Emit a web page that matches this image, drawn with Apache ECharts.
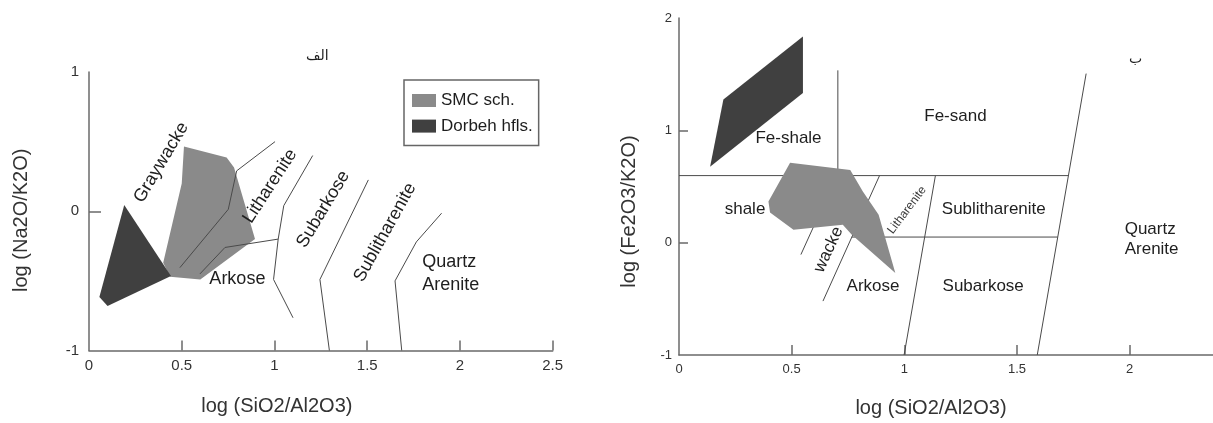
<!DOCTYPE html>
<html><head><meta charset="utf-8">
<script src="https://cdn.jsdelivr.net/npm/echarts@6/dist/echarts.min.js"></script>
<style>html,body{margin:0;padding:0;background:#fff}#c{width:1213px;height:423px}</style>
</head><body><div id="c"></div>
<script>
// ---------- Left panel (الف): log(Na2O/K2O) vs log(SiO2/Al2O3) ----------
const leftXTicks = [0, 0.5, 1, 1.5, 2, 2.5];
const leftYTicks = [-1, 0, 1];
const leftSMC = [[0.512,0.465],[0.742,0.386],[0.782,0.314],[0.895,-0.20],[0.60,-0.49],[0.437,-0.47],[0.40,-0.37],[0.50,0.20]];
const leftDorbeh = [[0.19,0.045],[0.442,-0.465],[0.10,-0.68],[0.056,-0.615]];
const leftLineA = [[1.003,0.50],[0.796,0.29],[0.751,0.014],[0.49,-0.405]];
const leftLineB = [[1.02,-0.20],[0.733,-0.26],[0.598,-0.45]];
const leftLineC = [[1.206,0.40],[1.05,0.04],[1.02,-0.20],[0.995,-0.49],[1.10,-0.765]];
const leftLineD = [[1.506,0.225],[1.245,-0.49],[1.296,-1.0]];
const leftLineE = [[1.901,-0.014],[1.765,-0.22],[1.65,-0.50],[1.686,-1.0]];
const leftLabels = [[0.39,0.35,'Graywacke'],[0.976,0.18,'Litharenite'],[1.263,0.014,'Subarkose'],[1.596,-0.153,'Sublitharenite'],[0.80,-0.49,'Arkose'],[1.797,-0.45,'Quartz\nArenite']];
const leftLabelAngles = [59, 57, 59, 61, 0, 0];

// ---------- Right panel (ب): log(Fe2O3/K2O) vs log(SiO2/Al2O3) ----------
const rightXTicks = [0, 0.5, 1, 1.5, 2];
const rightYTicks = [-1, 0, 1, 2];
const rightDorbeh = [[0.197,1.274],[0.55,1.835],[0.55,1.332],[0.138,0.676]];
const rightSMC = [[0.493,0.712],[0.76,0.647],[0.816,0.455],[0.886,0.248],[0.96,-0.269],[0.767,0.071],[0.727,0.16],[0.508,0.115],[0.404,0.269],[0.397,0.366]];
const rightLine1 = [[0,0.597],[1.728,0.597]];
const rightLine2 = [[0.705,1.534],[0.705,0.597]];
const rightLine3 = [[0.70,0.597],[0.541,-0.106]];
const rightLine4 = [[0.89,0.597],[0.639,-0.52]];
const rightLine5 = [[0.767,0.05],[1.681,0.05]];
const rightLine6 = [[1.138,0.597],[0.999,-1]];
const rightLine7 = [[1.807,1.505],[1.59,-1]];
const rightLabels = [[0.486,0.928,'Fe-shale'],[1.227,1.126,'Fe-sand'],[0.293,0.30,'shale'],[0.664,-0.062,'wacke'],[1.012,0.29,'Litharenite'],[0.861,-0.387,'Arkose'],[1.397,0.293,'Sublitharenite'],[1.35,-0.387,'Subarkose'],[1.978,0.033,'Quartz\nArenite']];
const rightLabelAngles = [0, 0, 0, 65, 53, 0, 0, 0, 0];

const FONT = '"Liberation Sans", Arial, Helvetica, sans-serif';
const DARK = '#404040', LIGHT = '#8a8a8a', AXIS = '#6a6a6a', BOUND = '#4a4a4a', TXT = '#1e1e1e';

function polySeries(name, pts, ax, z, color) {
  return {
    type: 'custom', name: name, coordinateSystem: 'cartesian2d',
    xAxisIndex: ax, yAxisIndex: ax, z: z, silent: true,
    itemStyle: { color: color },
    data: pts,
    renderItem: function (params, api) {
      if (params.dataIndex !== 0) return null;
      return { type: 'polygon', shape: { points: pts.map(p => api.coord(p)) }, style: { fill: color } };
    }
  };
}
function lineSeries(pts, ax, z) {
  return {
    type: 'line', xAxisIndex: ax, yAxisIndex: ax, z: z, silent: true,
    symbol: 'none', data: pts, lineStyle: { color: BOUND, width: 1 }
  };
}
function labelSeries(labels, angles, ax, size, lh) {
  return {
    type: 'custom', coordinateSystem: 'cartesian2d', xAxisIndex: ax, yAxisIndex: ax, z: 5, silent: true,
    data: labels.map(l => [l[0], l[1]]),
    renderItem: function (params, api) {
      const l = labels[params.dataIndex];
      const p = api.coord([l[0], l[1]]);
      const multi = l[2].indexOf('\n') >= 0;
      const small = l[2] === 'Litharenite' && ax === 1;
      return {
        type: 'text', x: p[0], y: p[1], rotation: angles[params.dataIndex] * Math.PI / 180,
        style: {
          text: l[2], align: multi ? 'left' : 'center', verticalAlign: 'middle',
          fontSize: small ? 12 : size, fontFamily: FONT, fill: small ? '#3a3a3a' : TXT, lineHeight: lh
        }
      };
    }
  };
}
function xAxisCfg(idx, max, ticks, tickVals, name, gap, padR, fs) {
  return {
    gridIndex: idx, type: 'value', min: 0, max: max, interval: 0.5,
    name: name, nameLocation: 'middle', nameGap: gap,
    nameTextStyle: { fontSize: 20, color: '#333', fontFamily: FONT, padding: [0, padR, 0, 0] },
    axisLine: { show: true, onZero: false, lineStyle: { color: AXIS, width: 1.5 } },
    axisTick: { show: true, inside: true, length: 10, customValues: tickVals, lineStyle: { color: AXIS, width: 1.5 } },
    axisLabel: { customValues: ticks, fontSize: fs, color: '#333', fontFamily: FONT, margin: 8 },
    splitLine: { show: false }
  };
}
function yAxisCfg(idx, min, max, ticks, tickVals, name, gap, padR, fs, tl, margin) {
  return {
    gridIndex: idx, type: 'value', min: min, max: max, interval: 1,
    name: name, nameLocation: 'middle', nameGap: gap,
    nameTextStyle: { fontSize: 20, color: '#333', fontFamily: FONT, padding: [0, padR, 0, 0] },
    axisLine: { show: true, onZero: false, lineStyle: { color: AXIS, width: 1.5 } },
    axisTick: { show: true, inside: true, length: tl, customValues: tickVals, lineStyle: { color: AXIS, width: 1.5 } },
    axisLabel: { customValues: ticks, fontSize: fs, color: '#333', fontFamily: FONT, margin: margin },
    splitLine: { show: false }
  };
}

const chart = echarts.init(document.getElementById('c'), null, { renderer: 'canvas' });
chart.setOption({
  animation: false,
  backgroundColor: '#fff',
  title: [
    { text: 'الف', left: 306, top: 49, padding: 0, textStyle: { fontSize: 14, fontWeight: 'normal', color: TXT, fontFamily: '"DejaVu Sans", sans-serif' } },
    { text: 'ب', left: 1129, top: 52, padding: 0, textStyle: { fontSize: 14, fontWeight: 'normal', color: TXT, fontFamily: '"DejaVu Sans", sans-serif' } }
  ],
  legend: {
    left: 404, top: 80, orient: 'vertical', itemWidth: 24, itemHeight: 13, itemGap: 8.6,
    padding: [12, 6, 11, 8], borderColor: '#666', borderWidth: 1.5, selectedMode: false,
    textStyle: { fontSize: 17, color: TXT, fontFamily: FONT },
    data: [{ name: 'SMC sch.', icon: 'rect', itemStyle: { color: LIGHT } }, { name: 'Dorbeh hfls.', icon: 'rect', itemStyle: { color: DARK } }]
  },
  grid: [
    { left: 89, top: 72, width: 463.7, height: 278.5 },
    { left: 679, top: 18, right: 0, height: 338.7 }
  ],
  xAxis: [
    xAxisCfg(0, 2.5, leftXTicks, leftXTicks.slice(1), 'log (SiO2/Al2O3)', 46, 88, 15),
    xAxisCfg(1, 2.37, rightXTicks, rightXTicks.slice(1), 'log (SiO2/Al2O3)', 43, 30, 13)
  ],
  yAxis: [
    yAxisCfg(0, -1, 1, leftYTicks, [0], 'log (Na2O/K2O)', 58, 18, 15, 12, 10),
    yAxisCfg(1, -1, 2, rightYTicks, [0, 1], 'log (Fe2O3/K2O)', 40, 50, 13, 9, 7)
  ],
  series: [
    polySeries('SMC sch.', leftSMC, 0, 1, LIGHT),
    polySeries('Dorbeh hfls.', leftDorbeh, 0, 1, DARK),
    lineSeries(leftLineA, 0, 2), lineSeries(leftLineB, 0, 2), lineSeries(leftLineC, 0, 2),
    lineSeries(leftLineD, 0, 2), lineSeries(leftLineE, 0, 2),
    labelSeries(leftLabels, leftLabelAngles, 0, 18, 23),
    lineSeries(rightLine1, 1, 1), lineSeries(rightLine2, 1, 1), lineSeries(rightLine3, 1, 1),
    lineSeries(rightLine4, 1, 1), lineSeries(rightLine5, 1, 1), lineSeries(rightLine6, 1, 1),
    lineSeries(rightLine7, 1, 1),
    polySeries('SMC sch.', rightSMC, 1, 2, LIGHT),
    polySeries('Dorbeh hfls.', rightDorbeh, 1, 2, DARK),
    labelSeries(rightLabels, rightLabelAngles, 1, 17, 20)
  ]
});
</script></body></html>
